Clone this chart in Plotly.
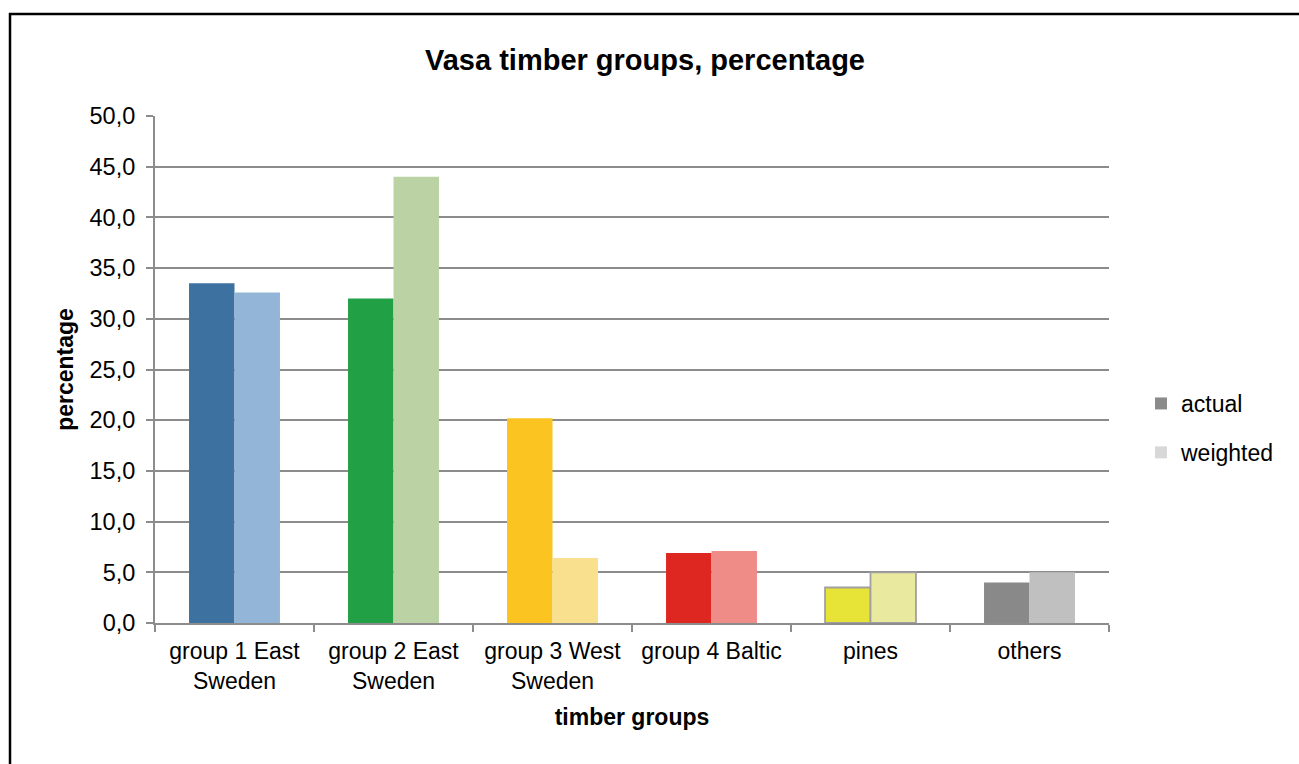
import plotly.graph_objects as go

# Timber group categories (two-line tick labels)
categories = [
    "group 1 East<br>Sweden",
    "group 2 East<br>Sweden",
    "group 3 West<br>Sweden",
    "group 4 Baltic",
    "pines",
    "others",
]

# Percentages per group
actual = [33.5, 32.0, 20.2, 6.9, 3.5, 4.0]
weighted = [32.6, 44.0, 6.4, 7.1, 5.0, 5.0]

# Per-group colours: saturated for actual, pale for weighted
actual_colors = ["#3D71A0", "#22A045", "#FBC421", "#DF2722", "#E8E337", "#898989"]
weighted_colors = ["#93B5D8", "#BBD3A4", "#F8E08E", "#F08C88", "#E9EAA0", "#C0C0C0"]
# Only the pines bars carry a grey outline
outline_widths = [0, 0, 0, 0, 1.8, 0]

W, H = 1299, 764
L, R, T, B = 155, 190, 116, 141
PW, PH = W - L - R, H - T - B

font_family = "Liberation Sans, Arial, sans-serif"

fig = go.Figure()

fig.add_trace(go.Bar(
    x=categories, y=actual, name="actual",
    marker=dict(color=actual_colors, line=dict(color="#A0A0A0", width=outline_widths)),
    showlegend=False,
))
fig.add_trace(go.Bar(
    x=categories, y=weighted, name="weighted",
    marker=dict(color=weighted_colors, line=dict(color="#A0A0A0", width=outline_widths)),
    showlegend=False,
))

# Neutral grey legend swatches
for name, col, grp in [("actual", "#8A8A8A", "a"), ("weighted", "#D8D8D8", "w")]:
    fig.add_trace(go.Scatter(
        x=[None], y=[None], mode="markers", name=name, legendgroup=grp,
        marker=dict(symbol="square", size=12, color=col),
    ))

# Outer frame around the chart
fig.add_shape(
    type="rect", xref="paper", yref="paper",
    x0=(10 - L) / PW, x1=(W + 10 - L) / PW,
    y0=(H - B - (H + 10)) / PH, y1=(H - B - 14) / PH,
    line=dict(color="#000000", width=2.5), fillcolor="rgba(0,0,0,0)",
    layer="above",
)

fig.update_layout(
    width=W, height=H,
    margin=dict(l=L, r=R, t=T, b=B),
    paper_bgcolor="white", plot_bgcolor="white",
    font=dict(family=font_family, color="#000000"),
    separators=", ",
    barmode="group", bargap=0.428, bargroupgap=0,
    title=dict(
        text="<b>Vasa timber groups, percentage</b>",
        font=dict(size=29, family=font_family, color="#000000"),
        x=645 / W, xref="container", xanchor="center",
        y=1 - 60 / H, yref="container", yanchor="middle",
    ),
    xaxis=dict(
        title=dict(text="<b>timber groups</b>", font=dict(size=23), standoff=16),
        tickfont=dict(size=23),
        ticklabelstandoff=6,
        showline=True, linecolor="#8C8C8C", linewidth=2,
        ticks="outside", tickson="boundaries", ticklen=7, tickcolor="#8C8C8C", tickwidth=2,
        showgrid=False,
    ),
    yaxis=dict(
        title=dict(text="<b>percentage</b>", font=dict(size=23), standoff=9),
        tickfont=dict(size=23.5),
        ticklabelstandoff=6,
        range=[0, 50], dtick=5, tickformat=".1f",
        showline=True, linecolor="#8C8C8C", linewidth=2,
        ticks="outside", ticklen=7, tickcolor="#8C8C8C", tickwidth=2,
        showgrid=True, gridcolor="#8C8C8C", gridwidth=2,
        zeroline=False,
    ),
    legend=dict(
        x=(1141 - L) / PW, xanchor="left",
        y=(H - B - 428) / PH, yanchor="middle",
        font=dict(size=23), tracegroupgap=16,
        itemsizing="constant",
        traceorder="grouped",
    ),
)

fig.write_html("out.html")
